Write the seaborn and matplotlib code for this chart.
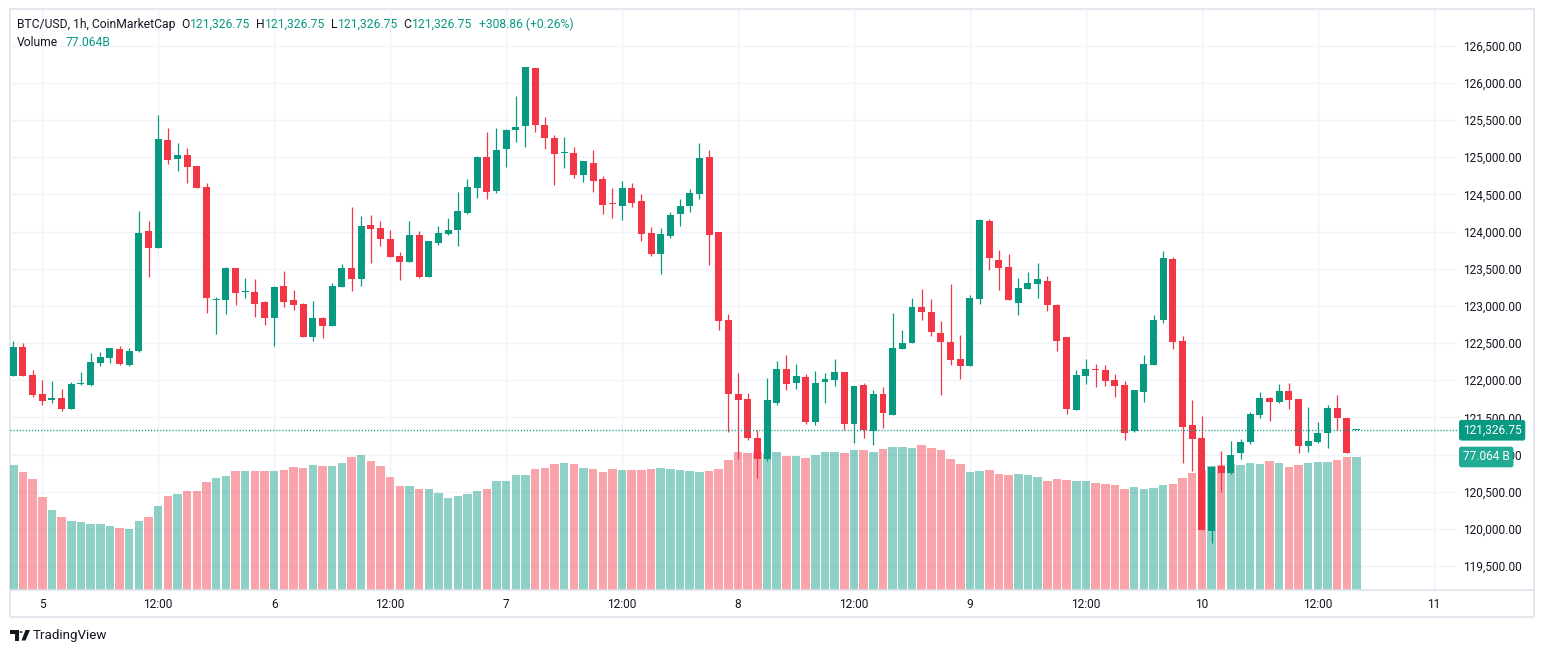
import matplotlib
matplotlib.use("Agg")
import matplotlib.pyplot as plt
import matplotlib.transforms as mtransforms
from matplotlib.patches import Rectangle, Polygon, Circle
from matplotlib.lines import Line2D
from matplotlib.ticker import FuncFormatter
import seaborn as sns
import numpy as np
import pandas as pd

# ---------------- data (BTC/USD 1h, Oct 4 21:00 -> Oct 10 16:00) ----------------
opens = [
    122056, 122446, 122070, 121814, 121740, 121760, 121617, 121949, 121935, 122231,
    122303, 122420, 122204, 122397, 124007, 123783, 125231, 124980, 125029, 124881,
    124599, 123083, 123083, 123509, 123190, 123186, 123051, 122840, 123267, 123078,
    123024, 122584, 122836, 122733, 123258, 123509, 123366, 124089, 124048, 123900,
    123671, 123590, 123954, 123388, 123846, 123967, 124021, 124250, 124580, 125006,
    124551, 125105, 125361, 125413, 126199, 125427, 125261, 125050, 125058, 124755,
    124925, 124707, 124375, 124347, 124589, 124414, 123978, 123699, 123940, 124229,
    124347, 124508, 125006, 123996, 122808, 121809, 121741, 121228, 120936, 121700,
    122146, 121962, 122038, 121435, 121975, 121998, 122106, 121408, 121930, 121314,
    121809, 121530, 122421, 122502, 122983, 122916, 122632, 122510, 122281, 122191,
    123096, 124144, 123618, 123523, 123042, 123231, 123298, 123334, 123010, 122578,
    121597, 122056, 122145, 122133, 121998, 121930, 121314, 121840, 122205, 122812,
    123631, 122524, 121404, 121228, 119977, 120850, 120746, 121017, 121165, 121530,
    121755, 121705, 121849, 121741, 121111, 121165, 121287, 121620, 121485, 121326.75,
]
highs = [
    122532, 122496, 122137, 122002, 121989, 121881, 121976, 122110, 122366, 122379,
    122433, 122460, 122433, 124276, 124141, 125567, 125392, 125191, 125123, 124881,
    124653, 123115, 123518, 123509, 123375, 123361, 123065, 123267, 123469, 123213,
    123038, 123065, 122854, 123307, 123563, 124331, 124210, 124223, 124142, 124021,
    123725, 124142, 124008, 123873, 124075, 124183, 124533, 124708, 125020, 125342,
    125399, 125384, 125820, 126213, 126199, 125545, 125304, 125276, 125138, 124954,
    125100, 124750, 124589, 124684, 124655, 124504, 124059, 124049, 124262, 124437,
    124575, 125195, 125100, 124000, 122889, 122092, 121822, 121332, 122025, 122254,
    122335, 122214, 122079, 122119, 122092, 122281, 122106, 121917, 121957, 121863,
    121903, 122902, 122673, 123105, 123226, 123091, 122794, 123293, 122605, 123145,
    124171, 124171, 123753, 123699, 123375, 123456, 123577, 123402, 123024, 122578,
    122133, 122281, 122214, 122200, 122079, 121984, 121863, 122335, 122875, 123739,
    123658, 122592, 121728, 121512, 120850, 121053, 121188, 121215, 121566, 121836,
    121768, 121944, 121957, 121741, 121633, 121444, 121660, 121795, 121485, 121326.75,
]
lows = [
    122050, 122056, 121778, 121671, 121697, 121590, 121617, 121940, 121926, 122195,
    122231, 122209, 122195, 122384, 123393, 123783, 124913, 124818, 124657, 124590,
    122908, 122626, 122895, 123016, 123110, 122854, 122746, 122463, 122988, 122948,
    122584, 122530, 122571, 122733, 123258, 123204, 123271, 123581, 123806, 123657,
    123348, 123590, 123375, 123388, 123819, 123954, 123806, 124237, 124456, 124442,
    124523, 124864, 125200, 125143, 125332, 125105, 124632, 124849, 124726, 124660,
    124537, 124239, 124187, 124158, 124324, 123869, 123675, 123429, 123917, 124078,
    124267, 124442, 123552, 122677, 121300, 120936, 121192, 120679, 120909, 121664,
    121867, 121881, 121408, 121395, 121692, 121921, 121327, 121152, 121219, 121125,
    121354, 121530, 122421, 122502, 122812, 122596, 121800, 122205, 122016, 122191,
    123028, 123487, 123217, 123082, 122880, 123231, 123109, 122934, 122393, 121543,
    121597, 121948, 121908, 121921, 121773, 121192, 121300, 121705, 122205, 122772,
    122420, 120882, 120774, 119990, 119815, 120490, 120733, 120936, 121138, 121489,
    121449, 121692, 121610, 121017, 121030, 121152, 121084, 121336, 121017.89, 121326.75,
]
closes = [
    122446, 122056, 121801, 121724, 121745, 121617, 121949, 121962, 122245, 122312,
    122433, 122218, 122393, 123980, 123783, 125244, 124966, 125029, 124872, 124590,
    123110, 123092, 123509, 123177, 123200, 123029, 122840, 123253, 123056, 123015,
    122584, 122836, 122733, 123267, 123509, 123366, 124075, 124035, 123900, 123657,
    123590, 123954, 123388, 123873, 123981, 124021, 124277, 124600, 125006, 124537,
    125100, 125370, 125408, 126213, 125427, 125252, 125039, 125056, 124755, 124954,
    124674, 124362, 124365, 124589, 124390, 123969, 123699, 123964, 124224, 124343,
    124518, 124991, 123959, 122798, 121813, 121728, 121228, 120936, 121728, 122146,
    121948, 122052, 121435, 121957, 122011, 122106, 121408, 121917, 121327, 121809,
    121557, 122430, 122497, 122983, 122920, 122650, 122515, 122272, 122191, 123105,
    124158, 123649, 123514, 123082, 123240, 123307, 123361, 123015, 122528, 121610,
    122065, 122146, 122135, 121989, 121921, 121291, 121863, 122214, 122808, 123645,
    122510, 121377, 121215, 119990, 120837, 120746, 120998, 121174, 121539, 121755,
    121705, 121849, 121732, 121111, 121188, 121296, 121620, 121489, 121017.89, 121326.75,
]
volumes_b = [
    72.4, 68.4, 64.3, 53.9, 46.4, 42.3, 40.0, 39.4, 38.2, 38.2,
    37.1, 35.9, 35.3, 40.0, 42.3, 48.7, 54.5, 55.6, 57.4, 57.4,
    62.6, 64.9, 66.1, 68.9, 68.9, 68.9, 68.9, 68.9, 69.5, 71.3,
    70.7, 72.4, 71.8, 71.8, 73.6, 77.1, 78.2, 74.7, 71.8, 65.5,
    60.3, 60.3, 58.5, 58.5, 56.2, 53.3, 54.5, 55.6, 57.1, 58.8,
    63.4, 62.9, 66.5, 66.5, 70.0, 70.4, 72.8, 73.5, 72.8, 70.4,
    70.0, 68.1, 70.0, 69.4, 69.4, 69.4, 70.0, 70.4, 70.0, 69.4,
    68.8, 68.1, 68.8, 70.1, 75.3, 80.0, 79.4, 80.0, 78.8, 80.0,
    77.6, 77.6, 76.5, 78.2, 80.0, 80.0, 79.4, 81.1, 81.1, 80.0,
    81.7, 82.9, 82.9, 82.3, 84.0, 82.3, 81.1, 75.9, 73.0, 68.4,
    68.9, 69.5, 67.2, 66.6, 67.2, 66.6, 65.5, 63.2, 64.3, 63.7,
    63.2, 63.2, 62.0, 61.4, 60.8, 58.5, 59.7, 58.5, 59.1, 60.8,
    61.4, 64.9, 67.8, 69.5, 71.8, 72.4, 73.0, 72.4, 73.6, 73.0,
    74.7, 73.6, 71.3, 72.4, 73.6, 74.2, 74.2, 75.3, 77.1, 77.064,
]
time_tick_hours = [3, 15, 27, 39, 51, 63, 75, 87, 99, 111, 123, 135, 147]
time_tick_labels = ["5", "12:00", "6", "12:00", "7", "12:00", "8", "12:00",
                    "9", "12:00", "10", "12:00", "11"]
price_ticks = [119500, 120000, 120500, 121000, 121500, 122000, 122500,
               123000, 123500, 124000, 124500, 125000, 125500, 126000, 126500]
last_price = 121326.75
last_volume = 77.064
change_text = "+308.86 (+0.26%)"
title_text = "BTC/USD, 1h, CoinMarketCap"

# ---------------- style ----------------
GREEN = "#089981"
RED = "#F23645"
VOL_GREEN_LABEL = "#22AB94"
TEXT = "#131722"
GRID = "#F0F3FA"
FRAME = "#E0E3EB"

sns.set_theme(style="white")
plt.rcParams['font.family'] = ['Roboto', 'DejaVu Sans']

W, H = 1545, 653
fig = plt.figure(figsize=(W / 100, H / 100), dpi=100)
fig.patch.set_facecolor("white")


def fx(px):
    return px / W


def fy(py):
    return 1 - py / H


L_, R_, T_, B_ = 10, 1457, 9, 590
rect = [fx(L_), fy(B_), fx(R_) - fx(L_), fy(T_) - fy(B_)]
ax_vol = fig.add_axes(rect)
ax = fig.add_axes(rect)

n = len(opens)
o = np.array(opens, dtype=float)
h = np.array(highs, dtype=float)
l = np.array(lows, dtype=float)
c = np.array(closes, dtype=float)
t = np.arange(n)
up = c >= o

XLIM = (-0.34, 149.4)
YLIM = (119178, 126993)
VLIM = (0, 336.6)

# ---------------- volume (seaborn) ----------------
df = pd.DataFrame({"t": t, "volume": volumes_b,
                   "dir": np.where(up, "up", "down")})
sns.barplot(data=df, x="t", y="volume", hue="dir",
            palette={"up": GREEN, "down": RED}, native_scale=True,
            dodge=False, width=0.88, alpha=0.45, saturation=1,
            errorbar=None, legend=False, linewidth=0, ax=ax_vol, zorder=2)
ax_vol.set_xlim(*XLIM)
ax_vol.set_ylim(*VLIM)
ax_vol.set_axis_off()

# gridlines drawn behind the volume bars
ax.set_ylim(*YLIM)
ax.set_xlim(*XLIM)
hl_trans = mtransforms.blended_transform_factory(ax_vol.transAxes, ax.transData)
for p in price_ticks:
    ax_vol.add_line(Line2D([0, 1], [p, p], transform=hl_trans, color=GRID,
                           lw=1.0, zorder=0))
for x in time_tick_hours:
    ax_vol.axvline(x, color=GRID, lw=1.0, zorder=0)

# ---------------- candles ----------------
colors = np.where(up, GREEN, RED)
ax.vlines(t, l, h, colors=colors, lw=0.9, zorder=3)
min_body = 14
body_bottom = np.minimum(o, c)
body_h = np.maximum(np.abs(c - o), min_body)
ax.bar(t, body_h, bottom=body_bottom, width=0.72, color=colors,
       linewidth=0, zorder=4)

# last price dotted line
ax.axhline(last_price, color=GREEN, lw=1.0, linestyle=(0, (0.8, 1.4)), zorder=5)

# ---------------- axes styling ----------------
ax.set_facecolor("none")
for s in ax.spines.values():
    s.set_visible(False)
ax.grid(False)
ax.yaxis.tick_right()
ax.set_yticks(price_ticks)
ax.yaxis.set_major_formatter(FuncFormatter(lambda v, _: f"{v:,.2f}"))
ax.set_xticks(time_tick_hours)
ax.set_xticklabels(time_tick_labels)
ax.tick_params(axis="y", length=0, pad=4.5, labelsize=8.6, labelcolor=TEXT)
ax.tick_params(axis="x", length=0, pad=6, labelsize=8.6, labelcolor=TEXT)
ax.set_xlabel("")
ax.set_ylabel("")

# right-side value labels
lbl_trans = mtransforms.blended_transform_factory(ax.transAxes, ax.transData)
ax.annotate(f"{last_price:,.2f}", xy=(1, last_price), xycoords=lbl_trans,
            xytext=(4.2, 0), textcoords="offset points", ha="left", va="center",
            color="white", fontsize=8.6, annotation_clip=False, zorder=10,
            bbox=dict(boxstyle="round,pad=0.32,rounding_size=0.2", fc=GREEN, ec="none"))
vol_trans = mtransforms.blended_transform_factory(ax.transAxes, ax_vol.transData)
ax.annotate(f"{last_volume:.3f} B", xy=(1, last_volume), xycoords=vol_trans,
            xytext=(4.2, 0), textcoords="offset points", ha="left", va="center",
            color="white", fontsize=8.6, annotation_clip=False, zorder=10,
            bbox=dict(boxstyle="round,pad=0.32,rounding_size=0.2", fc=VOL_GREEN_LABEL, ec="none"))

# ---------------- frame ----------------
fig.add_artist(Rectangle((fx(10), fy(617)), fx(1534) - fx(10), fy(9) - fy(617),
                         transform=fig.transFigure, fill=False, edgecolor=FRAME,
                         lw=1.2, zorder=0))
fig.add_artist(Line2D([fx(10), fx(1534)], [fy(590), fy(590)],
                      transform=fig.transFigure, color=FRAME, lw=1.2))

# ---------------- header ----------------
renderer = fig.canvas.get_renderer()


def draw_segments(x0, y0, segments, size):
    x = x0
    for txt, col, gap in segments:
        tt = fig.text(fx(x), fy(y0), txt, color=col, fontsize=size,
                      ha="left", va="center")
        bb = tt.get_window_extent(renderer)
        x += bb.width + gap


price_str = f"{last_price:,.2f}"
draw_segments(17, 24.5, [
    (title_text, TEXT, 5.5),
    ("O", TEXT, 0.5), (price_str, GREEN, 5.5),
    ("H", TEXT, 0.5), (price_str, GREEN, 5.5),
    ("L", TEXT, 0.5), (price_str, GREEN, 5.5),
    ("C", TEXT, 0.5), (price_str, GREEN, 6.5),
    (change_text, GREEN, 0),
], 8.7)
draw_segments(17, 42, [
    ("Volume", TEXT, 7),
    (f"{last_volume:.3f}B", GREEN, 0),
], 8.7)

# ---------------- TradingView logo ----------------
fig.add_artist(Polygon([(fx(10), fy(630)), (fx(18.5), fy(630)), (fx(18.5), fy(640.5)),
                        (fx(15), fy(640.5)), (fx(15), fy(633.5)), (fx(10), fy(633.5))],
                       closed=True, transform=fig.transFigure, fc=TEXT, ec="none"))
fig.add_artist(Circle((fx(21), fy(632)), 1.7 / W, transform=fig.transFigure,
                      fc=TEXT, ec="none"))
fig.add_artist(Polygon([(fx(25.5), fy(630)), (fx(30), fy(630)), (fx(25.5), fy(640.5)),
                        (fx(21.5), fy(640.5))],
                       closed=True, transform=fig.transFigure, fc=TEXT, ec="none"))
fig.text(fx(33), fy(635), "TradingView", color=TEXT, fontsize=9.6,
         ha="left", va="center")

fig.savefig("out.png", dpi=100, facecolor="white")
